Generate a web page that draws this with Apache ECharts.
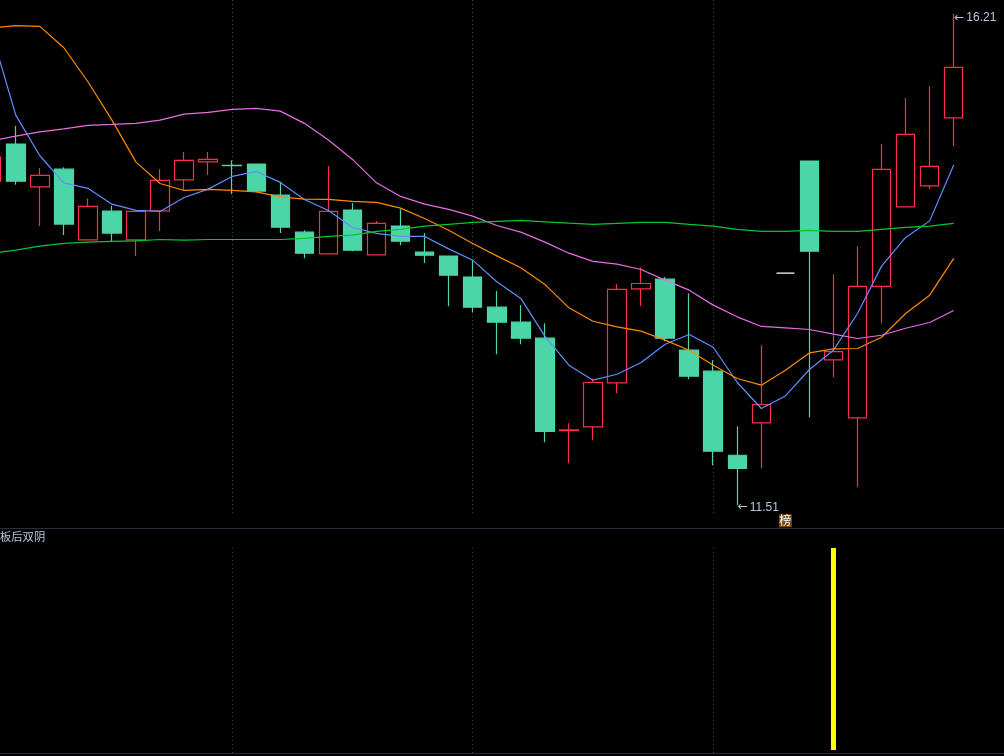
<!DOCTYPE html>
<html><head><meta charset="utf-8">
<style>html,body{margin:0;padding:0;background:#000;overflow:hidden}#c{width:1004px;height:756px}</style>
<script src="https://cdn.jsdelivr.net/npm/echarts@6/dist/echarts.min.js"></script>
</head><body><div id="c"></div>
<script>
const categories=['K00','K01','K02','K03','K04','K05','K06','K07','K08','K09','K10','K11','K12','K13','K14','K15','K16','K17','K18','K19','K20','K21','K22','K23','K24','K25','K26','K27','K28','K29','K30','K31','K32','K33','K34','K35','K36','K37','K38','K39','K40','K41','K42'];
const opens=[14.611,14.966,14.557,14.726,14.050,14.324,14.050,14.327,14.624,14.796,14.762,14.774,14.477,14.123,13.916,14.334,13.906,14.181,13.932,13.894,13.693,13.405,13.262,13.109,12.223,12.260,12.681,13.581,13.673,12.994,12.793,11.989,12.298,13.731,14.803,12.901,12.346,13.604,14.365,14.566,15.217];
const closes=[14.841,14.611,14.666,14.200,14.369,14.114,14.321,14.618,14.810,14.819,14.760,14.516,14.171,13.922,14.321,13.951,14.207,14.037,13.903,13.712,13.405,13.262,13.109,12.218,12.233,12.685,13.575,13.632,13.109,12.745,12.027,11.864,12.474,13.731,13.941,12.981,13.604,14.723,15.058,14.752,15.700];
const lows=[14.525,14.576,14.181,14.095,14.050,14.034,13.894,14.133,14.522,14.669,14.487,14.516,14.114,13.874,13.916,13.941,13.906,13.999,13.827,13.415,13.358,12.956,13.051,12.113,11.912,12.132,12.582,13.415,13.080,12.716,11.893,11.51,11.864,13.731,12.352,12.735,11.682,13.252,14.365,14.535,14.946];
const highs=[14.908,15.138,14.736,14.743,14.446,14.375,14.321,14.726,14.889,14.889,14.810,14.774,14.605,14.142,14.755,14.401,14.229,14.343,14.114,13.894,13.855,13.559,13.425,13.252,12.295,12.723,13.626,13.788,13.693,13.539,12.898,12.266,13.042,13.731,14.803,13.721,13.989,14.966,15.406,15.521,16.21];
const maBlue=[16.025,15.243,14.854,14.595,14.542,14.391,14.331,14.321,14.455,14.535,14.656,14.704,14.599,14.436,14.331,14.168,14.111,14.082,14.082,13.963,13.855,13.648,13.489,13.128,12.850,12.707,12.764,12.876,13.051,13.144,13.022,12.685,12.436,12.556,12.809,12.994,13.345,13.798,14.073,14.231,14.765];
const maOrange=[16.076,16.098,16.092,15.887,15.562,15.195,14.793,14.589,14.522,14.532,14.522,14.509,14.461,14.439,14.436,14.417,14.408,14.353,14.254,14.142,14.015,13.896,13.782,13.623,13.399,13.271,13.217,13.176,13.090,12.994,12.850,12.723,12.659,12.802,12.968,13.006,13.010,13.118,13.345,13.520,13.872];
const maPink=[14.997,15.042,15.083,15.112,15.145,15.154,15.164,15.195,15.253,15.269,15.298,15.307,15.281,15.164,15.004,14.819,14.595,14.465,14.391,14.341,14.276,14.187,14.123,14.028,13.922,13.843,13.817,13.766,13.664,13.568,13.425,13.313,13.221,13.207,13.192,13.147,13.106,13.137,13.204,13.259,13.374];
const maGreen=[13.922,13.951,13.989,14.015,14.028,14.034,14.040,14.053,14.047,14.053,14.053,14.053,14.053,14.063,14.082,14.095,14.130,14.149,14.181,14.197,14.216,14.226,14.235,14.222,14.209,14.197,14.207,14.216,14.216,14.197,14.181,14.149,14.130,14.130,14.140,14.130,14.130,14.149,14.168,14.181,14.207];
const signal=[0,0,0,0,0,0,0,0,0,0,0,0,0,0,0,0,0,0,0,0,0,0,0,0,0,0,0,0,0,0,0,0,0,0,0,1,0,0,0,0,0];
const flatBoardIndex=33, gridMarks=[10,20,30];
const highLabel='16.21', lowLabel='11.51', arrow='←', badge='榜', panelTitle='板后双阴';

const UP='#ff2d4b', DOWN='#4cd6a8', DOT='#44444c', RULE='#2c2c36', TXT='#b6c6e0';
const candleData=opens.map((o,i)=>{
  const v=[o,closes[i],lows[i],highs[i]];
  return i===flatBoardIndex
    ?{value:v,itemStyle:{borderColor:'#fff',borderColor0:'#fff',borderColorDoji:'#fff'}}
    :{value:v};
});
const mkLine=(name,data,color)=>({name,type:'line',data,xAxisIndex:0,yAxisIndex:0,showSymbol:false,symbol:'none',
  lineStyle:{color,width:1.2},itemStyle:{color},silent:true,z:3});
const priceRich={a:{color:TXT,fontSize:12,fontFamily:'"DejaVu Sans"'},t:{color:TXT,fontSize:12,fontFamily:'"Liberation Sans"',padding:[0,0,0,2]}};
const PRICE_MAX=16.344, PRICE_MIN=11.29, DOT_END=11.414;
const chart=echarts.init(document.getElementById('c'),null,{renderer:'canvas'});
chart.setOption({
  animation:false,backgroundColor:'#000',
  title:{text:panelTitle,left:0,top:531,padding:0,textStyle:{color:TXT,fontSize:11.3,fontWeight:'normal',fontFamily:'"Noto Sans CJK SC"'}},
  grid:[{left:-20.3,top:0,width:1034.15,height:528.3,outerBoundsMode:'none'},{left:-20.3,top:529,width:1034.15,height:224.5,outerBoundsMode:'none'}],
  xAxis:[
    {type:'category',gridIndex:0,data:categories,boundaryGap:true,axisLine:{show:true,lineStyle:{color:RULE,width:1}},axisTick:{show:false},axisLabel:{show:false},splitLine:{show:false}},
    {type:'category',gridIndex:1,data:categories,boundaryGap:true,axisLine:{show:true,onZero:false,lineStyle:{color:RULE,width:1}},axisTick:{show:false},axisLabel:{show:false},splitLine:{show:false}}
  ],
  yAxis:[
    {type:'value',gridIndex:0,min:PRICE_MIN,max:PRICE_MAX,show:false,splitLine:{show:false},scale:true},
    {type:'value',gridIndex:1,min:-0.0173,max:1.094,show:false,splitLine:{show:false}}
  ],
  series:[
    {name:'K',type:'candlestick',xAxisIndex:0,yAxisIndex:0,data:candleData,barWidth:19,silent:true,z:2,
      itemStyle:{color:'rgba(0,0,0,0)',color0:DOWN,borderColor:UP,borderColor0:DOWN,borderWidth:1.2},
      markLine:{silent:true,symbol:'none',label:{show:false},z:1,
        lineStyle:{color:DOT,width:1,type:[1,3]},
        data:gridMarks.map(i=>[{coord:[i,PRICE_MAX]},{coord:[i,DOT_END]}])},
      markPoint:{silent:true,symbol:'circle',symbolSize:1,itemStyle:{color:'rgba(0,0,0,0)'},
        data:[
          {coord:[40,16.21],label:{show:true,formatter:'{a|'+arrow+'}{t|'+highLabel+'}',rich:priceRich,position:'right',distance:0,offset:[0,4]}},
          {coord:[31,11.51],label:{show:true,formatter:'{a|'+arrow+'}{t|'+lowLabel+'}',rich:priceRich,position:'right',distance:0,offset:[0,2]}},
          {coord:[33,11.362],label:{show:true,formatter:badge,position:'inside',color:'#fff',fontSize:12,lineHeight:13,padding:[0,0.5],backgroundColor:'#7a4510',fontFamily:'"Noto Sans CJK SC"'}}
        ]}
    },
    mkLine('blue',maBlue,'#5f8fff'),
    mkLine('orange',maOrange,'#ff8a00'),
    mkLine('pink',maPink,'#e66fe0'),
    mkLine('green',maGreen,'#00c832'),
    {name:'signal',type:'bar',xAxisIndex:1,yAxisIndex:1,data:signal,barWidth:5,silent:true,itemStyle:{color:'#ffff00'},
      markLine:{silent:true,symbol:'none',label:{show:false},
        lineStyle:{color:DOT,width:1,type:[1,3]},
        data:gridMarks.map(i=>[{coord:[i,1]},{coord:[i,-0.0173]}])}}
  ]
});
</script></body></html>
